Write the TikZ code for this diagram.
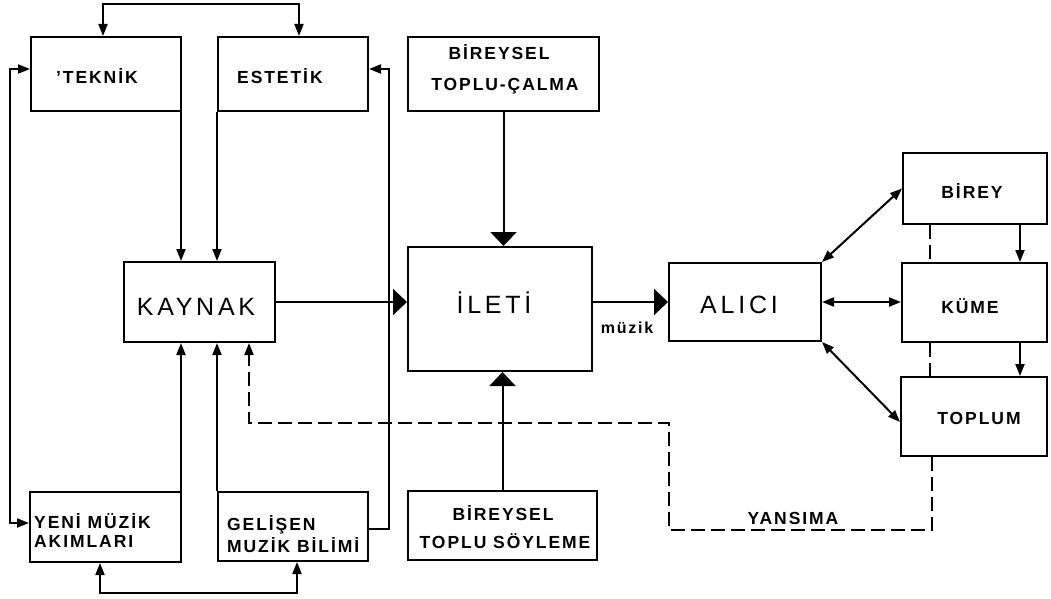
\documentclass[tikz,border=0pt]{standalone}
\usepackage{fontspec}
\setmainfont{Liberation Sans}
\newfontfamily\lblfont[LetterSpace=11]{Liberation Sans}
\newfontfamily\bigfont[LetterSpace=15]{Liberation Sans}
\usetikzlibrary{arrows.meta}
\tikzset{
  mtip/.tip={Triangle[length=12pt,width=9pt]},
  btip/.tip={Triangle[length=14pt,width=26pt]},
  box/.style={draw, line width=2pt, inner sep=0pt},
  conn/.style={line width=2pt},
  dashconn/.style={line width=2pt, dash pattern=on 14pt off 6pt},
  smalltxt/.style={font=\lblfont\bfseries\fontsize{17.5}{20}\selectfont, inner sep=0pt},
  bigtxt/.style={font=\bigfont\fontsize{25}{30}\selectfont, inner sep=0pt},
  boldtxt/.style={font=\lblfont\bfseries\fontsize{16}{19}\selectfont, inner sep=0pt},
}
\begin{document}
\begin{tikzpicture}[x=1pt,y=-1pt]
\useasboundingbox (0,0) rectangle (1051,599);
\fill[white] (0,0) rectangle (1051,599);

% boxes
\node[box, minimum width=150pt, minimum height=74pt] (teknik)  at (106,74) {};
\node[box, minimum width=150pt, minimum height=74pt] (estetik) at (293,74) {};
\node[box, minimum width=191pt, minimum height=74pt] (bir1)    at (503.5,74) {};
\node[box, minimum width=151pt, minimum height=80pt] (kaynak)  at (199.5,302) {};
\node[box, minimum width=184pt, minimum height=124pt] (ileti)  at (500,309) {};
\node[box, minimum width=152pt, minimum height=78pt] (alici)   at (745,302) {};
\node[box, minimum width=144pt, minimum height=71pt] (birey)   at (975,188.5) {};
\node[box, minimum width=145pt, minimum height=79pt] (kume)    at (974.5,302.5) {};
\node[box, minimum width=146pt, minimum height=79pt] (toplum)  at (974,416.5) {};
\node[box, minimum width=151pt, minimum height=70pt] (yeni)    at (105.5,527) {};
\node[box, minimum width=150pt, minimum height=69pt] (gelisen) at (293,526.5) {};
\node[box, minimum width=189pt, minimum height=69pt] (soyleme) at (502.5,525.5) {};

% texts
\node[smalltxt, anchor=base west] (tteknik) at (56,84) {’TEKNİK};
\node[smalltxt, anchor=base west] (testetik) at (237,84) {ESTETİK};
\node[smalltxt, anchor=base] (tbir1a) at (499,60) {BİREYSEL};
\node[smalltxt, anchor=base] (tbir1b) at (505,91) {TOPLU-ÇALMA};
\node[bigtxt, anchor=base] (tkaynak) at (196,315) {KAYNAK};
\node[bigtxt, anchor=base] (tileti) at (494,313) {İLETİ};
\node[bigtxt, anchor=base] (talici) at (739,313) {ALICI};
\node[smalltxt, anchor=base] (tbirey) at (972,198) {BİREY};
\node[smalltxt, anchor=base] (tkume) at (970,313) {KÜME};
\node[smalltxt, anchor=base] (ttoplum) at (979,424) {TOPLUM};
\node[smalltxt, anchor=base west] (tyenia) at (34,528) {YENİ MÜZİK};
\node[smalltxt, anchor=base west] (tyenib) at (34,547) {AKIMLARI};
\node[smalltxt, anchor=base west] (tgela) at (227,530) {GELİŞEN};
\node[smalltxt, anchor=base west] (tgelb) at (227,552) {MUZİK BİLİMİ};
\node[smalltxt, anchor=base] (tsoya) at (503,520) {BİREYSEL};
\node[smalltxt, anchor=base] (tsoyb) at (505,548) {TOPLU SÖYLEME};
\node[boldtxt, anchor=base] (tmuzik) at (627,333) {müzik};
\node[smalltxt, anchor=base] (tyansima) at (793,524) {YANSIMA};

% left cluster connectors
\draw[conn, mtip-mtip] ([xshift=-3pt]teknik.north) -- ++(0,-32) -| ([xshift=6pt]estetik.north);
\draw[conn, -mtip] ([xshift=-1pt]teknik.south east) -- ([xshift=-1pt]teknik.south east |- kaynak.north);
\draw[conn, -mtip] (estetik.south west) -- (estetik.south west |- kaynak.north);
\draw[conn, -mtip] ([xshift=-1pt]yeni.north east) -- ([xshift=-1pt]yeni.north east |- kaynak.south);
\draw[conn, -mtip] (gelisen.north west) -- (gelisen.north west |- kaynak.south);
\draw[conn, mtip-mtip] ([yshift=5pt]teknik.west) -- ++(-20,0) |- ([yshift=4pt]yeni.west);
\draw[conn, -mtip] ([yshift=-2.5pt]gelisen.east) -- ++(20,0) |- ([yshift=5pt]estetik.east);
\draw[conn, mtip-mtip] ([xshift=-5.5pt]yeni.south) -- ++(0,30) -| ([xshift=4pt]gelisen.south);

% centre connectors
\draw[conn, -btip] (kaynak.east) -- (kaynak.east -| ileti.west);
\draw[conn, -btip] (bir1.south) -- (bir1.south |- ileti.north);
\draw[conn, -btip] (soyleme.north) -- (soyleme.north |- ileti.south);
\draw[conn, -btip] (alici.west -| ileti.east) -- (alici.west);

% right cluster connectors
\draw[conn, mtip-mtip] (alici.north east) -- (birey.west);
\draw[conn, mtip-mtip] (alici.east) -- (alici.east -| kume.west);
\draw[conn, mtip-mtip] (alici.south east) -- ([yshift=-5.5pt]toplum.west);
\draw[conn, -mtip] ([xshift=45pt]birey.south) -- ([xshift=45pt]birey.south |- kume.north);
\draw[conn, -mtip] ([xshift=45.5pt]kume.south) -- ([xshift=45.5pt]kume.south |- toplum.north);
\draw[dashconn] ([xshift=-45pt]birey.south) -- ([xshift=-45pt]birey.south |- kume.north);
\draw[dashconn] ([xshift=-44.5pt]kume.south) -- ([xshift=-44.5pt]kume.south |- toplum.north);

% reflection (YANSIMA) dashed loop
\coordinate (yb1) at (669,530);
\coordinate (yb2) at (669,423);
\coordinate (yb3) at (249,423);
\draw[dashconn, -mtip] ([xshift=-42pt]toplum.south) |- (yb1) -- (yb2) -- (yb3) -- (yb3 |- kaynak.south);
\end{tikzpicture}
\end{document}
